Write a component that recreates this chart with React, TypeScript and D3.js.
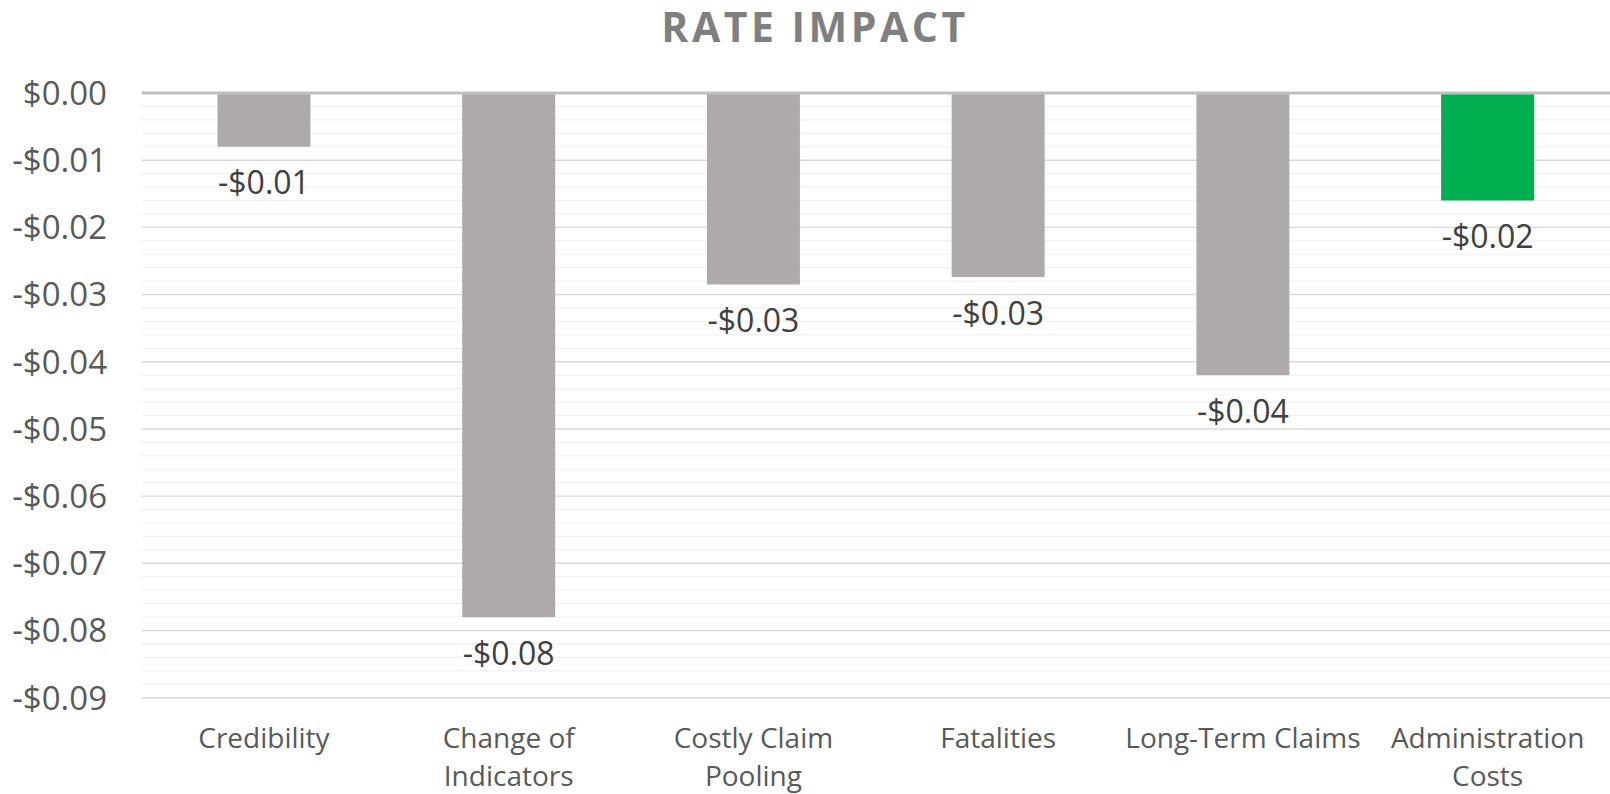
import React from "react";
import * as d3 from "d3";

const categories: string[][] = [
  ["Credibility"],
  ["Change of", "Indicators"],
  ["Costly Claim", "Pooling"],
  ["Fatalities"],
  ["Long-Term Claims"],
  ["Administration", "Costs"],
];
const values: number[] = [-0.008, -0.078, -0.0285, -0.0274, -0.042, -0.016];
const barColors: string[] = ["#AEAAAA", "#AEAAAA", "#AEAAAA", "#AEAAAA", "#AEAAAA", "#00B050"];
const majorTicks: number[] = [0, -0.01, -0.02, -0.03, -0.04, -0.05, -0.06, -0.07, -0.08, -0.09];
const title = "RATE IMPACT";

const W = 1610;
const H = 794;
const FONT = "'Open Sans', 'Noto Sans', sans-serif";

function fmt(v: number): string {
  const s = "$" + Math.abs(v).toFixed(2);
  return v < -1e-9 ? "-" + s : s;
}

export default function App() {
  const left = 141.6;
  const right = 1610;
  const top = 93;
  const bottom = 697.7;

  const x = d3
    .scaleBand<number>()
    .domain(d3.range(categories.length))
    .range([left, right])
    .paddingInner(0.62)
    .paddingOuter(0.31);
  const y = d3.scaleLinear().domain([-0.09, 0]).range([bottom, top]);

  const minorTicks = d3.range(0, 46).map((i) => -i * 0.002).filter((v) => Math.round(v * 1000) % 10 !== 0);

  return (
    <svg
      width={W}
      height={H}
      style={{ position: "absolute", left: 0, top: 0, background: "#fff" }}
    >
      <text
        x={815}
        y={41.5}
        textAnchor="middle"
        fontFamily={FONT}
        fontWeight="bold"
        fontSize={41}
        letterSpacing={3.5}
        fill="#7F7F7F"
      >
        {title}
      </text>
      {minorTicks.map((t, i) => (
        <line key={"mi" + i} x1={left} x2={right} y1={y(t)} y2={y(t)} stroke="#F0F0F0" strokeWidth={1.2} />
      ))}
      {majorTicks.slice(1).map((t, i) => (
        <line key={"ma" + i} x1={left} x2={right} y1={y(t)} y2={y(t)} stroke="#D9D9D9" strokeWidth={1.4} />
      ))}
      {majorTicks.map((t, i) => (
        <text
          key={"yl" + i}
          x={107}
          y={y(t) + 11.8}
          textAnchor="end"
          fontFamily={FONT}
          fontSize={33}
          fill="#595959"
        >
          {fmt(t)}
        </text>
      ))}
      {values.map((v, i) => (
        <rect
          key={"b" + i}
          x={x(i)}
          y={y(0)}
          width={x.bandwidth()}
          height={y(v) - y(0)}
          fill={barColors[i]}
        />
      ))}
      <line x1={left} x2={right} y1={y(0)} y2={y(0)} stroke="#BFBFBF" strokeWidth={3} />
      {values.map((v, i) => (
        <text
          key={"dl" + i}
          x={(x(i) as number) + x.bandwidth() / 2}
          y={y(v) + 47.5}
          textAnchor="middle"
          fontFamily={FONT}
          fontSize={32}
          fill="#404040"
        >
          {fmt(v)}
        </text>
      ))}
      {categories.map((lines, i) => (
        <text
          key={"cl" + i}
          x={(x(i) as number) + x.bandwidth() / 2}
          textAnchor="middle"
          fontFamily={FONT}
          fontSize={28}
          fill="#595959"
        >
          {lines.map((ln, j) => (
            <tspan key={j} x={(x(i) as number) + x.bandwidth() / 2} y={748 + j * 38}>
              {ln}
            </tspan>
          ))}
        </text>
      ))}
    </svg>
  );
}
